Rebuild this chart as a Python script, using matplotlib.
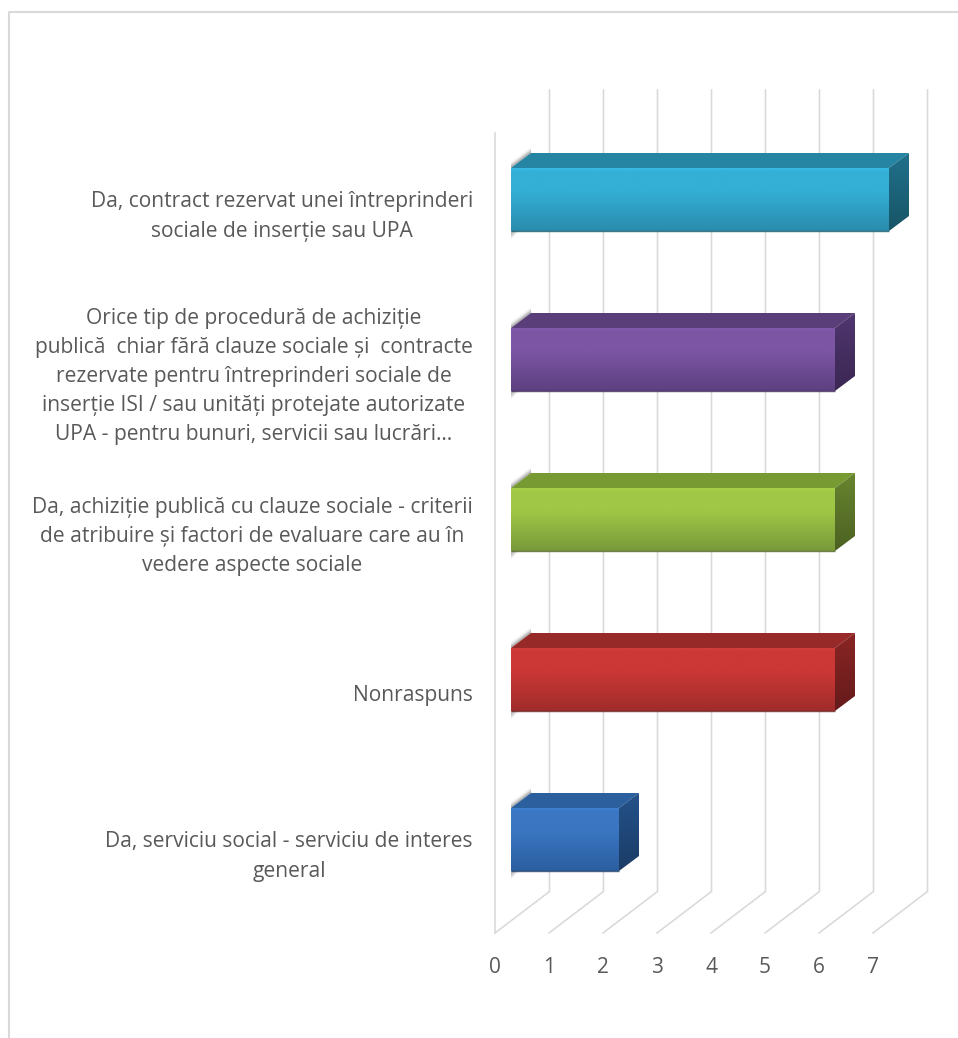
import numpy as np
import matplotlib
matplotlib.use("Agg")
import matplotlib.pyplot as plt
from matplotlib.colors import to_rgb
from matplotlib.patches import Polygon
from matplotlib.transforms import ScaledTranslation

categories = [
    "Da, serviciu social - serviciu de interes\ngeneral",
    "Nonraspuns",
    "Da, achiziție publică cu clauze sociale - criterii\nde atribuire și factori de evaluare care au în\nvedere aspecte sociale",
    "Orice tip de procedură de achiziție\npublică  chiar fără clauze sociale și  contracte\nrezervate pentru întreprinderi sociale de\ninserție ISI / sau unități protejate autorizate\nUPA - pentru bunuri, servicii sau lucrări…",
    "Da, contract rezervat unei întreprinderi\nsociale de inserție sau UPA",
]
values = [2, 6, 6, 6, 7]
x_ticks = [0, 1, 2, 3, 4, 5, 6, 7]
front_colors = [("#3f80d0", "#3a76c2", "#2b5f9f"), ("#d43e3b", "#cb3836", "#a02c2b"),
                ("#a8d24a", "#a0c846", "#78993a"), ("#8259ad", "#7c56a4", "#5d4080"),
                ("#38bde6", "#34afd6", "#2a8cad")]
top_colors = ["#2b5f9d", "#972a28", "#789a32", "#5a3e79", "#2685a3"]
side_colors = [("#24528a", "#1b3c66"), ("#8a2524", "#651b1b"), ("#68852f", "#4c6122"),
               ("#503670", "#3a2752"), ("#21708c", "#175566")]

plt.rcParams["font.family"] = ["Open Sans", "DejaVu Sans"]
W, H = 958, 1038
fig = plt.figure(figsize=(W / 100, H / 100), dpi=100, facecolor="white")
ax = fig.add_axes([495 / W, (H - 933) / H, 378 / W, 800 / H])
ax.set_facecolor("none")
for s in ax.spines.values():
    s.set_visible(False)

PX, PY = 1 / 54.0, 1 / 160.0           # one pixel in data units
DEPTH_X, DEPTH_Y = 54.5 * PX, 41.5 * PY  # wall depth projection
GRID = "#d9d9d9"
LW = 1.6 * 0.72

# floor and back wall grid
y0, y1 = -0.5, 4.5
top_back = y0 + (933 - 90) * PY
for v in x_ticks:
    ax.plot([v, v + DEPTH_X, v + DEPTH_X], [y0, y0 + DEPTH_Y, top_back],
            color=GRID, lw=LW, clip_on=False, zorder=1, solid_joinstyle="miter")
ax.plot([0, 0], [y0, y1], color=GRID, lw=LW, clip_on=False, zorder=1)


def gradient(poly_pts, stops, pos, z):
    """Fill a polygon with a vertical gradient."""
    pts = np.array(poly_pts)
    rgb = np.array([to_rgb(c) for c in stops])
    t = np.linspace(0, 1, 128)
    img = np.stack([np.interp(t, pos, rgb[:, i]) for i in range(3)], axis=1)[:, None, :]
    im = ax.imshow(img, extent=(pts[:, 0].min(), pts[:, 0].max(), pts[:, 1].min(), pts[:, 1].max()),
                   origin="upper", aspect="auto", zorder=z, interpolation="bilinear")
    patch = Polygon(pts, closed=True, transform=ax.transData, fc="none", ec="none")
    ax.add_patch(patch)
    patch.set_clip_on(False)
    im.set_clip_box(fig.bbox)
    im.set_clip_path(patch)


off_x, off_y = 16 * PX, 13.5 * PY       # bar front offset from the front plane
bar_dx, bar_dy = 20 * PX, 15 * PY       # bar depth projection
half = 31.5 * PY

for i, (val, fc, tc, sc) in enumerate(zip(values, front_colors, top_colors, side_colors)):
    xl, xr = off_x, off_x + val
    yb, yt = i + off_y - half, i + off_y + half
    # soft shadow beside the bar
    for k in range(1, 7):
        a = 0.22 * (1 - k / 7)
        s = k * 1.0
        ax.add_patch(Polygon([(xl, yt), (xl + bar_dx, yt + bar_dy),
                              (xl + bar_dx, yt + bar_dy + s * PY), (xl, yt + s * PY)],
                             fc="#555555", ec="none", alpha=a, zorder=2, clip_on=False))
        ax.add_patch(Polygon([(xl, yb), (xl + (9 - k) * PX, yb), (xl, yb - (9 - k) * PY)],
                             fc="#777777", ec="none", alpha=0.10, zorder=2, clip_on=False))
    # top face
    ax.add_patch(Polygon([(xl, yt), (xr, yt), (xr + bar_dx, yt + bar_dy), (xl + bar_dx, yt + bar_dy)],
                         fc=tc, ec="none", zorder=3, clip_on=False))
    # side face
    gradient([(xr, yt), (xr + bar_dx, yt + bar_dy), (xr + bar_dx, yb + bar_dy), (xr, yb)],
             sc, [0, 1], 3)
    # front face
    gradient([(xl, yb), (xr, yb), (xr, yt), (xl, yt)],
             [fc[0], fc[1], fc[1], fc[2]], [0, 0.06, 0.35, 1], 4)
    ax.plot([xl, xr], [yb, yb], color=sc[1], lw=1.0, zorder=5, clip_on=False, alpha=0.8,
            solid_capstyle="butt")

ax.set_xlim(0, 7)
ax.set_ylim(y0, y1)
ax.set_xticks(x_ticks)
ax.set_xticklabels([str(v) for v in x_ticks], fontsize=15, color="#595959")
ax.set_yticks(range(len(categories)))
ax.set_yticklabels(categories, fontsize=15.1, color="#595959")
ax.tick_params(axis="x", length=0, pad=17.5)
ax.tick_params(axis="y", length=0, pad=16)
for lab in ax.get_yticklabels():
    lab.set_multialignment("center")
    lab.set_linespacing(1.5)
    if "\n" in lab.get_text():
        lab.set_transform(lab.get_transform() + ScaledTranslation(0, 3 / 100, fig.dpi_scale_trans))

# outer chart border (top and left only are inside the crop)
fig.add_artist(plt.Line2D([9 / W, 9 / W, 1], [0, (H - 12) / H, (H - 12) / H],
                          color="#d9d9d9", lw=1.5, transform=fig.transFigure))

fig.savefig("out.png", dpi=100, facecolor="white")
